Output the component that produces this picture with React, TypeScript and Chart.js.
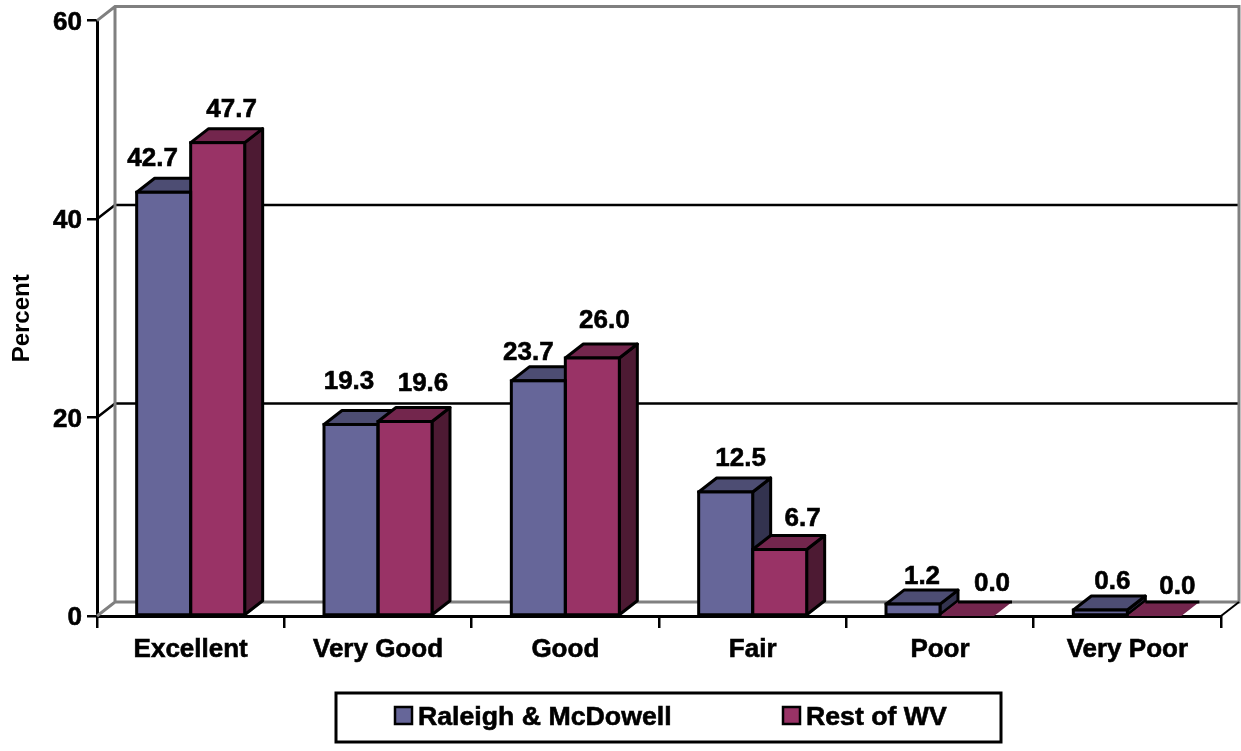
import React, { useEffect, useRef } from "react";
import { Chart, registerables } from "chart.js";

Chart.register(...registerables);

const categories = ["Excellent", "Very Good", "Good", "Fair", "Poor", "Very Poor"];
const raleighValues = [42.7, 19.3, 23.7, 12.5, 1.2, 0.6];
const restValues = [47.7, 19.6, 26.0, 6.7, 0.0, 0.0];
const seriesNames = ["Raleigh & McDowell", "Rest of WV"];
const yTicks = [0, 20, 40, 60];

const FONT = '"Liberation Sans", Arial, sans-serif';
const DEPTH_X = 18;
const DEPTH_Y = 14;
const LABEL_SIZE = 26;
const TEXT_STROKE = 0.6;
const EDGE = 3;

const faces = [
  { front: "#666699", top: "#4d4d73", side: "#33334f" },
  { front: "#993366", top: "#73264d", side: "#4d1a33" },
];

// label offsets from the front-top centre of each bar [dx, dy]
const labelNudge = [
  [[-11, -33], [-2, -43], [-10, -28], [15, -33], [9, -27], [12, -28]],
  [[14, -33], [18, -38], [12, -37], [23, -31], [25, -32], [23, -29]],
];

const threeD = {
  id: "threeD",
  beforeDraw(chart: any) {
    if (chart.$labelsShifted) return;
    chart.$labelsShifted = true;
    chart.scales.y.getLabelItems().forEach((item: any) => {
      item.options.translation[1] += 2;
    });
  },
  beforeDatasetsDraw(chart: any) {
    const { ctx, chartArea: a, scales } = chart;
    const bx = a.left + DEPTH_X;
    const by = a.bottom - DEPTH_Y;
    const ty = a.top - DEPTH_Y;
    const rx = a.right + DEPTH_X;
    ctx.save();
    ctx.lineCap = "butt";
    // inner gridlines on the back wall
    ctx.strokeStyle = "#000";
    ctx.lineWidth = 2.5;
    yTicks.slice(1, -1).forEach((v) => {
      const y = scales.y.getPixelForValue(v);
      ctx.beginPath();
      ctx.moveTo(a.left, y);
      ctx.lineTo(bx, y - DEPTH_Y);
      ctx.lineTo(rx, y - DEPTH_Y);
      ctx.stroke();
    });
    // walls
    ctx.strokeStyle = "#808080";
    ctx.lineWidth = 3;
    ctx.beginPath();
    ctx.moveTo(a.left, a.top);
    ctx.lineTo(bx, ty);
    ctx.lineTo(rx, ty);
    ctx.lineTo(rx, by);
    ctx.lineTo(bx, by);
    ctx.lineTo(a.left, a.bottom);
    ctx.moveTo(bx, ty);
    ctx.lineTo(bx, by);
    ctx.stroke();
    ctx.strokeStyle = "#000";
    ctx.lineWidth = 2;
    ctx.beginPath();
    ctx.moveTo(a.right, a.bottom);
    ctx.lineTo(rx, by);
    ctx.stroke();
    // bar top and side faces
    ctx.lineJoin = "round";
    ctx.lineWidth = EDGE;
    ctx.strokeStyle = "#000";
    chart.data.datasets.forEach((ds: any, d: number) => {
      chart.getDatasetMeta(d).data.forEach((bar: any, i: number) => {
        const half = bar.width / 2;
        const l = bar.x - half;
        const r = bar.x + half;
        const t = bar.y;
        const b = bar.base;
        const flat = ds.data[i] === 0;
        if (!flat) {
          ctx.fillStyle = faces[d].side;
          ctx.beginPath();
          ctx.moveTo(r, t);
          ctx.lineTo(r + DEPTH_X, t - DEPTH_Y);
          ctx.lineTo(r + DEPTH_X, b - DEPTH_Y);
          ctx.lineTo(r, b);
          ctx.closePath();
          ctx.fill();
          ctx.stroke();
        }
        ctx.fillStyle = faces[d].top;
        ctx.beginPath();
        ctx.moveTo(l, t);
        ctx.lineTo(l + DEPTH_X, t - DEPTH_Y);
        ctx.lineTo(r + DEPTH_X, t - DEPTH_Y);
        ctx.lineTo(r, t);
        ctx.closePath();
        ctx.fill();
        if (flat) {
          ctx.beginPath();
          ctx.moveTo(l + DEPTH_X, t - DEPTH_Y);
          ctx.lineTo(r + DEPTH_X, t - DEPTH_Y);
          ctx.stroke();
        } else {
          ctx.stroke();
        }
      });
    });
    ctx.restore();
  },
  afterDatasetsDraw(chart: any) {
    const { ctx } = chart;
    ctx.save();
    // outlines of the front faces
    ctx.strokeStyle = "#000";
    ctx.lineWidth = EDGE;
    chart.data.datasets.forEach((ds: any, d: number) => {
      chart.getDatasetMeta(d).data.forEach((bar: any, i: number) => {
        if (ds.data[i] === 0) return;
        ctx.strokeRect(bar.x - bar.width / 2, bar.y, bar.width, bar.base - bar.y);
      });
    });
    ctx.font = `bold ${LABEL_SIZE}px ${FONT}`;
    ctx.fillStyle = "#000";
    ctx.textAlign = "center";
    ctx.textBaseline = "middle";
    ctx.lineWidth = TEXT_STROKE;
    chart.data.datasets.forEach((ds: any, d: number) => {
      chart.getDatasetMeta(d).data.forEach((bar: any, i: number) => {
        const [dx, dy] = labelNudge[d][i];
        const text = ds.data[i].toFixed(1);
        ctx.fillText(text, bar.x + dx, bar.y + dy);
        ctx.strokeText(text, bar.x + dx, bar.y + dy);
      });
    });
    // legend box
    const box = { l: 336, t: 693, w: 665, h: 49 };
    ctx.lineWidth = 3;
    ctx.strokeRect(box.l, box.t, box.w, box.h);
    ctx.textAlign = "left";
    ctx.font = `bold 26.7px ${FONT}`;
    const entryX = [395, 783];
    chart.data.datasets.forEach((ds: any, d: number) => {
      ctx.fillStyle = faces[d].front;
      ctx.lineWidth = 2.5;
      ctx.fillRect(entryX[d], 707, 17, 17);
      ctx.strokeRect(entryX[d], 707, 17, 17);
      ctx.fillStyle = "#000";
      ctx.lineWidth = TEXT_STROKE;
      ctx.fillText(ds.label, entryX[d] + 23, 718);
      ctx.strokeText(ds.label, entryX[d] + 23, 718);
    });
    ctx.restore();
  },
};

export default function App() {
  const ref = useRef<HTMLCanvasElement>(null);
  useEffect(() => {
    const chart = new Chart(ref.current as HTMLCanvasElement, {
      type: "bar",
      data: {
        labels: categories,
        datasets: [
          {
            label: seriesNames[0],
            data: raleighValues,
            backgroundColor: faces[0].front,
            borderWidth: 0,
          },
          {
            label: seriesNames[1],
            data: restValues,
            backgroundColor: faces[1].front,
            borderWidth: 0,
          },
        ],
      },
      options: {
        responsive: false,
        animation: false,
        maintainAspectRatio: false,
        layout: { padding: { top: 20, right: 20, left: 0, bottom: 0 } },
        plugins: { legend: { display: false }, tooltip: { enabled: false }, title: { display: false } },
        datasets: { bar: { barPercentage: 1, categoryPercentage: 0.5765 } },
        scales: {
          x: {
            afterFit: (s: any) => {
              s.height = 135;
            },
            grid: {
              offset: true,
              drawOnChartArea: false,
              drawTicks: true,
              tickLength: 12,
              color: "#000",
              lineWidth: 2.5,
            },
            border: { color: "#000", width: 3 },
            ticks: {
              color: "#000",
              padding: 6,
              autoSkip: false,
              maxRotation: 0,
              textStrokeColor: "#000",
              textStrokeWidth: TEXT_STROKE,
              font: { family: FONT, size: LABEL_SIZE, weight: "bold" },
            },
          },
          y: {
            min: 0,
            max: 60,
            afterFit: (s: any) => {
              s.width = 97;
            },
            grid: {
              drawOnChartArea: false,
              drawTicks: true,
              tickLength: 10,
              color: "#000",
              lineWidth: 2.5,
            },
            border: { color: "#000", width: 3 },
            ticks: {
              stepSize: 20,
              color: "#000",
              padding: 5,
              textStrokeColor: "#000",
              textStrokeWidth: TEXT_STROKE,
              font: { family: FONT, size: LABEL_SIZE, weight: "bold" },
            },
            title: {
              display: true,
              text: "Percent",
              color: "#000",
              padding: { top: 8, bottom: 0 },
              font: { family: FONT, size: 24, weight: "bold" },
            },
          },
        },
      } as any,
      plugins: [threeD],
    });
    return () => chart.destroy();
  }, []);
  return (
    <canvas
      ref={ref}
      width={1241}
      height={751}
      style={{ position: "absolute", left: 0, top: 0, display: "block", background: "#fff" }}
    />
  );
}
